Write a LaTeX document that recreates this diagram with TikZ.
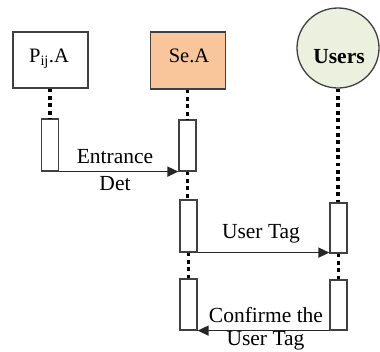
\documentclass[tikz,border=0pt]{standalone}
\usepackage{fontspec}
\setmainfont{Liberation Serif}
\usetikzlibrary{arrows.meta,shapes.geometric}
\definecolor{seafill}{HTML}{F9C59A}
\definecolor{userfill}{HTML}{EBF1DE}
\definecolor{edge}{HTML}{404040}
\begin{document}
\begin{tikzpicture}[x=1pt,y=-1pt,
  actor/.style={draw=edge,line width=1.3pt,minimum width=75pt,minimum height=56pt,inner sep=0pt,font=\fontsize{20.5}{24}\selectfont},
  actbox/.style={draw=edge,line width=1.2pt,fill=white,minimum width=17pt,inner sep=0pt},
  life/.style={line width=3.8pt,dash pattern=on 3.8pt off 3.6pt,black},
  msg/.style={line width=1.4pt,black!85,-{Triangle[length=11pt,width=10pt]}},
  lbl/.style={font=\fontsize{21.5}{26}\selectfont,inner sep=0pt,anchor=base}]
\useasboundingbox (0,0) rectangle (380,351);
% actors
\node[actor] (pa) at (50.5,60) {};
\node[font=\fontsize{20.5}{24}\selectfont,anchor=base,inner sep=0pt] (pat) at (49,62) {P\textsubscript{ij}.A};
\node[actor,fill=seafill,minimum height=57pt] (sa) at (188,60.5) {};
\node[font=\fontsize{20.5}{24}\selectfont,anchor=base,inner sep=0pt] (sat) at (189,62) {Se.A};
\node[draw=edge,line width=1.3pt,fill=userfill,ellipse,minimum width=82pt,minimum height=80pt,inner sep=0pt] (us) at (338,48) {};
\node[font=\bfseries\fontsize{21.5}{26}\selectfont,anchor=base,inner sep=0pt] (ust) at (339,63) {Users};
% activation boxes
\node[actbox,minimum height=52pt] (a1) at (50,145) {};
\node[actbox,minimum height=51pt] (b1) at (187.5,145.5) {};
\node[actbox,minimum height=52pt] (b2) at (188.5,226) {};
\node[actbox,minimum height=50pt] (c2) at (338.5,228) {};
\node[actbox,minimum height=51pt] (b3) at (188.5,304.5) {};
\node[actbox,minimum height=50pt] (c3) at (338.5,305) {};
% lifelines
\draw[life] (pa.south -| a1.north) -- (a1.north);
\draw[life] (sa.south -| b1.north) -- (b1.north);
\draw[life] (b1.south) -- (b2.north -| b1.south);
\draw[life] (b2.south) -- (b3.north);
\draw[life] (us.south) -- (c2.north -| us.south);
\draw[life] (c2.south) -- (c3.north);
% messages
\draw[msg] (a1.south east) -- (b1.south west);
\draw[msg] (b2.south east) -- (b2.south east -| c2.west);
\draw[msg] (c3.south west) -- (c3.south west -| b3.east);
% labels
\node[lbl] (l1) at (115,163) {Entrance};
\node[lbl] (l2) at (115,190) {Det};
\node[lbl] (l3) at (261,238) {User Tag};
\node[lbl] (l4) at (266,322) {Confirme the};
\node[lbl] (l5) at (265.5,345.5) {User Tag};
\end{tikzpicture}
\end{document}
